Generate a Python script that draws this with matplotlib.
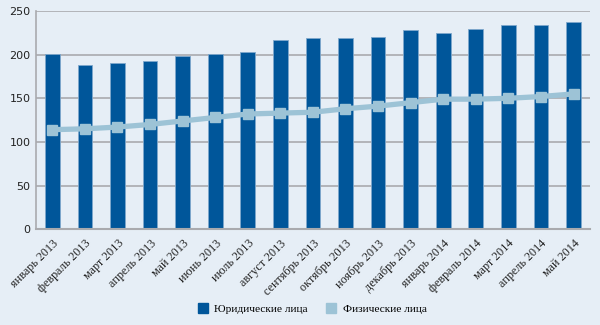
import matplotlib
matplotlib.use("Agg")
import matplotlib.pyplot as plt
import numpy as np
from matplotlib.lines import Line2D

categories = ["январь 2013", "февраль 2013", "март 2013", "апрель 2013", "май 2013",
              "июнь 2013", "июль 2013", "август 2013", "сентябрь 2013", "октябрь 2013",
              "ноябрь 2013", "декабрь 2013", "январь 2014", "февраль 2014", "март 2014",
              "апрель 2014", "май 2014"]
legal = [201, 188, 190, 193, 198, 201, 203, 217, 219, 219, 220, 228, 225, 229, 234, 234, 238]
individuals = [114, 115, 117, 120, 124, 128, 132, 133, 134, 138, 141, 145, 149, 149, 150, 152, 155]
series_names = ["Юридические лица", "Физические лица"]
yticks = [0, 50, 100, 150, 200, 250]

bg = "#E6EEF6"
bar_color = "#00569A"
line_color = "#9DC3D6"

fig = plt.figure(figsize=(6, 3.25), dpi=100, facecolor=bg)
ax = fig.add_axes([0.06, 0.295, 0.923, 0.671])
ax.set_facecolor(bg)

x = np.arange(len(categories))
ax.bar(x, legal, width=0.45, color=bar_color, edgecolor="#7FA8CC", linewidth=0.6,
       zorder=2, label=series_names[0])
ax.plot(x, individuals, color=line_color, linewidth=3.8, marker="s", markersize=7.5,
        zorder=3)

ax.set_xlim(-0.5, len(categories) - 0.5)
ax.set_ylim(0, 250)
ax.set_yticks(yticks)
ax.yaxis.grid(True, color="#A9AAAE", linewidth=1.2, zorder=1)
ax.set_axisbelow(True)
for s in ["top", "right"]:
    ax.spines[s].set_visible(False)
ax.spines["left"].set_color("#A9AAAE")
ax.spines["bottom"].set_color("#A9AAAE")
ax.spines["left"].set_linewidth(1.2)
ax.spines["bottom"].set_linewidth(1.5)
ax.tick_params(axis="both", length=0, colors="#222222")
ax.tick_params(axis="y", labelsize=8, pad=4)
for lbl in ax.get_yticklabels():
    lbl.set_family("DejaVu Sans")
ax.set_xticks(x)
ax.set_xticklabels(categories, rotation=45, ha="right", rotation_mode="anchor",
                   family="Liberation Serif", fontsize=8.7)
ax.tick_params(axis="x", pad=6)

handles = [Line2D([], [], marker="s", linestyle="none", markersize=7.2, color=bar_color),
           Line2D([], [], marker="s", linestyle="none", markersize=7.2, color=line_color)]
fig.legend(handles, series_names, loc="center", bbox_to_anchor=(0.52, 0.049), ncol=2,
           frameon=False, prop={"family": "Liberation Serif", "size": 8.2},
           handlelength=1.0, handletextpad=0.5, columnspacing=1.55)

fig.savefig("out.png", dpi=100, facecolor=bg)
